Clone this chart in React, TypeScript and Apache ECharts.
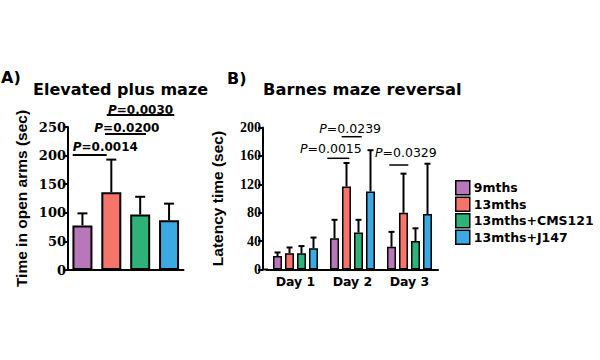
import React, { useEffect, useRef } from "react";
import * as echarts from "echarts";

const groupNames = ["9mths", "13mths", "13mths+CMS121", "13mths+J147"];
const groupColors = ["#b877bb", "#f67469", "#2eb27a", "#3ca9e2"];

// Panel A: Elevated plus maze
const epmMeans = [78, 136, 97, 87];
const epmErrTops = [99, 193, 128, 116];
const epmTicks = [0, 50, 100, 150, 200, 250];

// Panel B: Barnes maze reversal
const days = ["Day 1", "Day 2", "Day 3"];
const bm9mths = [19, 44, 32];
const bm9mthsErr = [24, 70, 53];
const bm13mths = [23, 117, 80];
const bm13mthsErr = [31, 150, 135];
const bmCMS121 = [23, 52, 40];
const bmCMS121Err = [33, 70, 58];
const bmJ147 = [30, 110, 78];
const bmJ147Err = [45, 168, 149];
const bmTicks = [0, 40, 80, 120, 160, 200];

const SANS = "DejaVu Sans";
const B_BAR_W = 9;
const B_GAP = 3;

function errSeries(
  name: string,
  xAxisIndex: number,
  yAxisIndex: number,
  means: number[],
  tops: number[],
  offset: number,
  cap: number,
  lw: number
) {
  return {
    type: "custom",
    name,
    xAxisIndex,
    yAxisIndex,
    z: 5,
    encode: { x: 0, y: [1, 2] },
    data: means.map((m, i) => [i, m, tops[i]]),
    renderItem: (params: any, api: any) => {
      const idx = api.value(0);
      const p0 = api.coord([idx, api.value(1)]);
      const p1 = api.coord([idx, api.value(2)]);
      const cx = p0[0] + offset;
      const st = { stroke: "#000", lineWidth: lw };
      return {
        type: "group",
        children: [
          { type: "line", shape: { x1: cx, y1: p0[1], x2: cx, y2: p1[1] }, style: st },
          { type: "line", shape: { x1: cx - cap, y1: p1[1], x2: cx + cap, y2: p1[1] }, style: st },
        ],
      };
    },
  };
}

function pText(text: string, x: number, y: number, bold: boolean, size: number) {
  return {
    type: "text",
    x,
    y,
    style: {
      text: "{i|P}=" + text,
      fontFamily: SANS,
      fontSize: size,
      fontWeight: bold ? "bold" : "normal",
      fill: "#000",
      align: "left",
      verticalAlign: "middle",
      rich: {
        i: {
          fontFamily: SANS,
          fontSize: size,
          fontWeight: bold ? "bold" : "normal",
          fontStyle: "italic",
          fill: "#000",
        },
      },
    },
  };
}

function hLine(x1: number, x2: number, y: number, lw: number) {
  return {
    type: "line",
    shape: { x1, y1: y, x2, y2: y },
    style: { stroke: "#000", lineWidth: lw },
  };
}

export default function App() {
  const ref = useRef<HTMLDivElement>(null);

  useEffect(() => {
    if (!ref.current) return;
    const chart = echarts.init(ref.current, undefined, { renderer: "svg" });

    const bmMeans = [bm9mths, bm13mths, bmCMS121, bmJ147];
    const bmErrs = [bm9mthsErr, bm13mthsErr, bmCMS121Err, bmJ147Err];
    const step = B_BAR_W + B_GAP;

    const axisLineStyle = { lineStyle: { color: "#000", width: 2 } };
    const axisTickStyle = { lineStyle: { color: "#000", width: 2 }, length: 5 };

    const option: any = {
      animation: false,
      backgroundColor: "#fff",
      grid: [
        { left: 68, top: 127, width: 115.5, height: 143 },
        { left: 267, top: 127.5, width: 171, height: 142 },
      ],
      xAxis: [
        {
          type: "category",
          gridIndex: 0,
          data: groupNames,
          axisLine: axisLineStyle,
          axisTick: { ...axisTickStyle, alignWithLabel: true },
          axisLabel: { show: false },
        },
        {
          type: "category",
          gridIndex: 1,
          data: days,
          axisLine: axisLineStyle,
          axisTick: { ...axisTickStyle, alignWithLabel: true },
          axisLabel: {
            color: "#000",
            fontFamily: SANS,
            fontWeight: "bold",
            fontSize: 12.5,
            margin: 5,
          },
        },
      ],
      yAxis: [
        {
          type: "value",
          gridIndex: 0,
          min: epmTicks[0],
          max: epmTicks[epmTicks.length - 1],
          interval: epmTicks[1] - epmTicks[0],
          name: "Time in open arms (sec)",
          nameLocation: "middle",
          nameGap: 39,
          nameTextStyle: {
            color: "#000",
            fontFamily: "Liberation Sans",
            fontWeight: "bold",
            fontSize: 15.5,
          },
          axisLine: { show: true, ...axisLineStyle },
          axisTick: { show: true, ...axisTickStyle },
          splitLine: { show: false },
          axisLabel: {
            color: "#000",
            fontFamily: "DejaVu Serif",
            fontWeight: "bold",
            fontSize: 13,
            margin: 2,
          },
        },
        {
          type: "value",
          gridIndex: 1,
          min: bmTicks[0],
          max: bmTicks[bmTicks.length - 1],
          interval: bmTicks[1] - bmTicks[0],
          offset: 4,
          name: "Latency time (sec)",
          nameLocation: "middle",
          nameGap: 38,
          nameTextStyle: {
            color: "#000",
            fontFamily: "Liberation Sans",
            fontWeight: "bold",
            fontSize: 15.5,
          },
          axisLine: { show: true, ...axisLineStyle },
          axisTick: { show: true, ...axisTickStyle },
          splitLine: { show: false },
          axisLabel: {
            color: "#000",
            fontFamily: "Liberation Serif",
            fontWeight: "bold",
            fontSize: 14,
            margin: 2,
          },
        },
      ],
      legend: {
        orient: "vertical",
        left: 455,
        top: 180,
        padding: 0,
        itemWidth: 14,
        itemHeight: 14,
        itemGap: 1,
        icon: "rect",
        data: groupNames,
        itemStyle: { borderColor: "#000", borderWidth: 1.5 },
        textStyle: {
          color: "#000",
          fontFamily: SANS,
          fontWeight: "bold",
          fontSize: 12.5,
          padding: [0, 0, 0, -1],
        },
      },
      series: [
        {
          type: "bar",
          name: "Elevated plus maze",
          xAxisIndex: 0,
          yAxisIndex: 0,
          barWidth: 20,
          data: epmMeans.map((v, i) => ({
            value: v,
            itemStyle: { color: groupColors[i], borderColor: "#000", borderWidth: 2 },
          })),
        },
        errSeries("epmErr", 0, 0, epmMeans, epmErrTops, 0, 5, 2),
        ...groupNames.map((n, gi) => ({
          type: "bar",
          name: n,
          xAxisIndex: 1,
          yAxisIndex: 1,
          barWidth: B_BAR_W,
          barGap: (B_GAP / B_BAR_W) * 100 + "%",
          itemStyle: { color: groupColors[gi], borderColor: "#000", borderWidth: 1.5 },
          data: bmMeans[gi],
        })),
        ...groupNames.map((n, gi) =>
          errSeries("bmErr" + gi, 1, 1, bmMeans[gi], bmErrs[gi], (gi - 1.5) * step, 3, 2)
        ),
      ],
      graphic: [
        {
          type: "text",
          x: 1,
          y: 77.5,
          style: { text: "A)", fontFamily: SANS, fontWeight: "bold", fontSize: 16, fill: "#000", verticalAlign: "middle" },
        },
        {
          type: "text",
          x: 33,
          y: 89,
          style: { text: "Elevated plus maze", fontFamily: SANS, fontWeight: "bold", fontSize: 16, fill: "#000", verticalAlign: "middle" },
        },
        {
          type: "text",
          x: 227,
          y: 78.5,
          style: { text: "B)", fontFamily: SANS, fontWeight: "bold", fontSize: 16, fill: "#000", verticalAlign: "middle" },
        },
        {
          type: "text",
          x: 263,
          y: 89.5,
          style: { text: "Barnes maze reversal", fontFamily: SANS, fontWeight: "bold", fontSize: 16.3, fill: "#000", verticalAlign: "middle" },
        },
        pText("0.0030", 108, 110, true, 12),
        hLine(106.7, 174.3, 115, 1.8),
        pText("0.0200", 94.3, 128, true, 12),
        hLine(105, 146, 134, 1.8),
        pText("0.0014", 72.7, 146.7, true, 12),
        hLine(72.7, 106.7, 155, 1.8),
        pText("0.0239", 319.3, 128.8, false, 12.5),
        hLine(341.7, 361.7, 136.7, 1.5),
        pText("0.0015", 300, 148.5, false, 12.5),
        hLine(327.3, 349.3, 158.3, 1.5),
        pText("0.0329", 375, 152.2, false, 12.5),
        hLine(389.3, 408.3, 165, 1.5),
        hLine(262, 268, 269.5, 2),
      ],
    };

    chart.setOption(option);
    return () => chart.dispose();
  }, []);

  return (
    <div
      ref={ref}
      style={{ position: "absolute", left: 0, top: 0, width: 600, height: 360, background: "#fff" }}
    />
  );
}
